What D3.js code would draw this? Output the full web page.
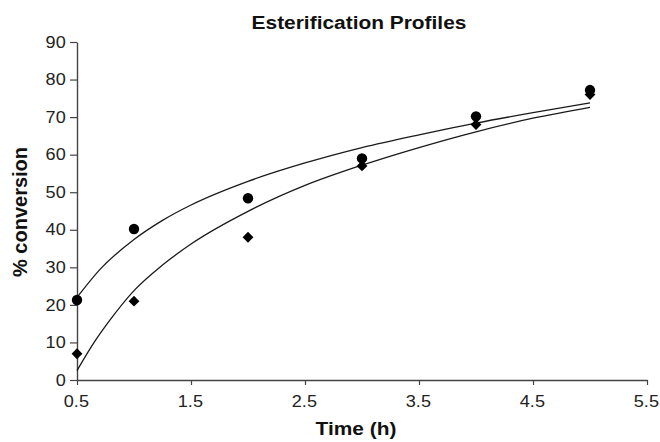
<!DOCTYPE html>
<html>
<head>
<meta charset="utf-8">
<script src="https://cdn.jsdelivr.net/npm/d3@7"></script>
<style>
    body { margin: 0; background: #fff; }
    svg { display: block; font-family: "Liberation Sans", Arial, sans-serif; }
</style>
</head>
<body>
<div id="plot"></div>
<script>
// measured points
const times = [0.5, 1, 2, 3, 4, 5];
const circleValues = [21.3, 40.2, 48.4, 59, 70.2, 77.2];
const diamondValues = [7, 21, 38, 57, 68, 76];

// trend curves
const upperCurveT = [0.5, 0.7, 1.0, 1.25, 1.5, 2.0, 2.5, 3.0, 3.5, 4.0, 4.5, 5.0];
const upperCurveV = [22, 29.4, 37.4, 42.5, 46.6, 52.9, 57.8, 61.9, 65.3, 68.4, 71.2, 73.8];
const lowerCurveT = [0.5, 0.65, 0.8, 1.0, 1.25, 1.5, 2.0, 2.5, 3.0, 3.5, 4.0, 4.5, 5.0];
const lowerCurveV = [2.5, 10, 16.4, 23.8, 30.6, 36.2, 44.9, 51.8, 57.2, 61.9, 66.1, 69.7, 72.6];

const xTicks = [0.5, 1.5, 2.5, 3.5, 4.5, 5.5];
const yTicks = [0, 10, 20, 30, 40, 50, 60, 70, 80, 90];

const width = 660;
const height = 442;
const margin = { top: 42, right: 13, bottom: 62, left: 77 };

const svg = d3.select("#plot")
    .append("svg")
    .attr("width", width)
    .attr("height", height);

const x = d3.scaleLinear()
    .domain([0.5, 5.5])
    .range([margin.left, width - margin.right]);

const y = d3.scaleLinear()
    .domain([0, 90])
    .range([height - margin.bottom, margin.top]);

const axisColor = "#444";
const wide = "scale(1.13,1)"; // the reference lettering is a bit wider than Arial

// x axis
const xAxis = svg.append("g")
    .attr("transform", `translate(0,${y(0)})`)
    .call(d3.axisBottom(x).tickValues(xTicks).tickSize(5).tickSizeOuter(0).tickPadding(11).tickFormat(d3.format(".1f")));

// y axis
const yAxis = svg.append("g")
    .attr("transform", `translate(${x(0.5)},0)`)
    .call(d3.axisLeft(y).tickValues(yTicks).tickSize(7).tickSizeOuter(0).tickPadding(3));

[xAxis, yAxis].forEach(ax => {
    ax.select(".domain").attr("stroke", axisColor).attr("stroke-width", 1.4);
    ax.selectAll(".tick line").attr("stroke", axisColor).attr("stroke-width", 1.2);
    ax.selectAll(".tick text")
        .attr("fill", "#222")
        .attr("transform", wide)
        .style("font-size", "16px")
        .style("font-family", "'Liberation Sans', Arial, sans-serif");
});
xAxis.selectAll(".tick text").attr("x", -1);

// trend curves
const line = d3.line()
    .x(d => x(d[0]))
    .y(d => y(d[1]))
    .curve(d3.curveMonotoneX);

[[upperCurveT, upperCurveV], [lowerCurveT, lowerCurveV]].forEach(([ts, vs]) => {
    svg.append("path")
        .datum(ts.map((t, i) => [t, vs[i]]))
        .attr("fill", "none")
        .attr("stroke", "#1a1a1a")
        .attr("stroke-width", 1.3)
        .attr("d", line);
});

// circles
svg.selectAll(".circ")
    .data(times.map((t, i) => [t, circleValues[i]]))
    .enter()
    .append("circle")
    .attr("cx", d => x(d[0]))
    .attr("cy", d => y(d[1]))
    .attr("r", 5.2)
    .attr("fill", "#000");

// diamonds
const diamond = d3.symbol().type(d3.symbolDiamond2).size(75);
svg.selectAll(".diam")
    .data(times.map((t, i) => [t, diamondValues[i]]))
    .enter()
    .append("path")
    .attr("transform", d => `translate(${x(d[0])},${y(d[1])})`)
    .attr("d", diamond)
    .attr("fill", "#000");

// titles
svg.append("text")
    .attr("transform", `translate(359,29) scale(1.1,1)`)
    .attr("text-anchor", "middle")
    .style("font-size", "19px")
    .style("font-weight", "bold")
    .attr("fill", "#111")
    .text("Esterification Profiles");

svg.append("text")
    .attr("transform", `translate(356,435) ${wide}`)
    .attr("text-anchor", "middle")
    .style("font-size", "18.5px")
    .style("font-weight", "bold")
    .attr("fill", "#111")
    .text("Time (h)");

svg.append("text")
    .attr("transform", `translate(27,212) rotate(-90)`)
    .attr("text-anchor", "middle")
    .style("font-size", "20px")
    .style("font-weight", "bold")
    .attr("fill", "#111")
    .text("% conversion");
</script>
</body>
</html>
